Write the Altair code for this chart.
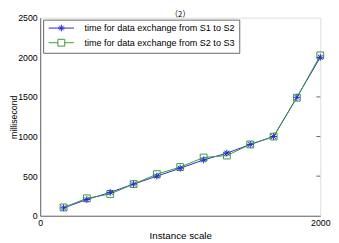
import altair as alt
import pandas as pd

# ---- data ----
instance_scale = [167, 333, 500, 667, 833, 1000, 1167, 1333, 1500, 1667, 1833, 2000]
s1_to_s2 = [100, 205, 295, 400, 500, 600, 705, 790, 900, 1000, 1495, 2000]
s2_to_s3 = [105, 220, 275, 400, 525, 615, 735, 760, 900, 1000, 1490, 2025]
series_names = ["time for data exchange from S1 to S2",
                "time for data exchange from S2 to S3"]
y_ticks = [0, 500, 1000, 1500, 2000, 2500]
x_ticks = [0, 2000]
right_ticks = [500, 1000, 1500, 2000]
title_text = "（2）"

rows = []
for x, a, b in zip(instance_scale, s1_to_s2, s2_to_s3):
    rows.append({"x": x, "y": a, "series": series_names[0]})
    rows.append({"x": x, "y": b, "series": series_names[1]})
df = pd.DataFrame(rows)
df_s1 = df[df.series == series_names[0]]
df_s2 = df[df.series == series_names[1]]

BLUE = "#2626d9"
GREEN = "#3a9a3a"
FONT = "Liberation Sans"

star = "M-1,0L1,0M0,-1L0,1M-0.7,-0.7L0.7,0.7M-0.7,0.7L0.7,-0.7"
square = "M-1,-1L1,-1L1,1L-1,1Z"
leg_star = "M-3.7,0L3.7,0" + star
leg_square = "M-3.7,0L-1,0M1,0L3.7,0" + square
shape_signal = ("datum.value === '%s' ? '%s' : '%s'"
                % (series_names[0], leg_star, leg_square))

color_scale = alt.Scale(domain=series_names, range=[BLUE, GREEN])

xenc = alt.X("x:Q", scale=alt.Scale(domain=[0, 2000]),
             axis=alt.Axis(values=x_ticks, format="d", title="Instance scale", grid=False,
                           tickSize=0, labelPadding=3, titlePadding=3,
                           labelFontSize=9, titleFontSize=10, titleFontWeight="normal",
                           labelFont=FONT, titleFont=FONT, domainColor="#666",
                           labelColor="black", titleColor="black",
                           labelFlush=False))
yenc = alt.Y("y:Q", scale=alt.Scale(domain=[0, 2500]),
             axis=alt.Axis(values=y_ticks, format="d", title="millisecond", grid=False,
                           tickSize=0, labelPadding=3, titleX=-22,
                           labelFontSize=9, titleFontSize=9, titleFontWeight="normal",
                           labelFont=FONT, titleFont=FONT, domainColor="#666",
                           labelColor="black", titleColor="black"))

legend = alt.Legend(orient="none", legendX=3, legendY=2, title=None,
                    strokeColor="#666", fillColor="white", padding=4,
                    symbolSize=49, symbolStrokeWidth=1, symbolOffset=10,
                    symbolFillColor="transparent",
                    symbolType={"expr": shape_signal},
                    labelOffset=19, labelFontSize=9.3, labelFont=FONT,
                    labelColor="black", rowPadding=3,
                    labelLimit=0)

lines = alt.Chart(df).mark_line(strokeWidth=1).encode(
    x=xenc, y=yenc,
    color=alt.Color("series:N", scale=color_scale, legend=legend),
    detail="series:N")

pts_s2 = alt.Chart(df_s2).mark_point(filled=False, size=49, strokeWidth=1, opacity=1,
                                      shape=square, color=GREEN).encode(x=xenc, y=yenc)
pts_s1 = alt.Chart(df_s1).mark_point(filled=False, size=49, strokeWidth=1, opacity=1,
                                      shape=star, color=BLUE).encode(x=xenc, y=yenc)

ticks_df = pd.DataFrame({"y": right_ticks})
rticks = alt.Chart(ticks_df).mark_rule(color="#666", strokeWidth=1).encode(
    y=alt.Y("y:Q", scale=alt.Scale(domain=[0, 2500])),
    x=alt.value(283), x2=alt.value(287))

chart = alt.layer(rticks, lines, pts_s2, pts_s1).properties(
    width=287, height=203,
    title=alt.TitleParams(title_text, fontSize=8, font="Noto Sans CJK SC", fontWeight="normal",
                          baseline="top", offset=-5, color="black"),
    autosize=alt.AutoSizeParams(type="none"),
    padding={"left": 33, "top": 7, "right": 11, "bottom": 25},
).configure_view(stroke="#666", strokeWidth=1).configure(background="white")

chart.save("out.html", embed_options={"renderer": "svg", "actions": False})
